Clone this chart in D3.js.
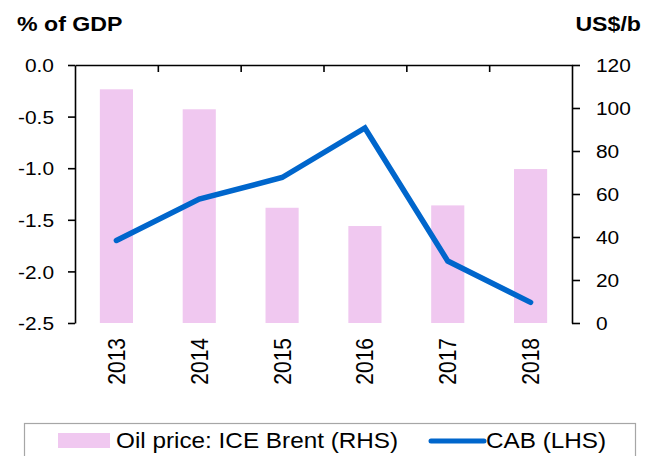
<!DOCTYPE html>
<html>
<head>
<meta charset="utf-8">
<script src="https://cdn.jsdelivr.net/npm/d3@7"></script>
<style>
  html, body { margin: 0; padding: 0; background: #fff; }
  svg { display: block; font-family: Arial, "Liberation Sans", sans-serif; }
</style>
</head>
<body>
<svg id="chart" width="646" height="456"></svg>
<script>
// Data
const years = ["2013", "2014", "2015", "2016", "2017", "2018"];
const brentPrice = [108.7, 99.4, 53.6, 45.1, 54.7, 71.6];   // US$/b, right axis
const cabShare = [-1.70, -1.30, -1.09, -0.61, -1.90, -2.30]; // % of GDP, left axis
const leftTicks = [0, -0.5, -1.0, -1.5, -2.0, -2.5];
const rightTicks = [0, 20, 40, 60, 80, 100, 120];
const legendLabels = ["Oil price: ICE Brent (RHS)", "CAB (LHS)"];
const axisTitles = ["% of GDP", "US$/b"];

const barColor = "#f0c8f0";
const lineColor = "#0066cc";
const stretch = 1.13; // horizontal stretch of the lettering

const svg = d3.select("#chart");
const plot = { left: 75, right: 572, top: 65, bottom: 323 };

const x = d3.scaleBand().domain(years).range([plot.left, plot.right])
  .paddingInner(0.6).paddingOuter(0.3);
const slots = d3.scaleLinear().domain([0, years.length]).range([plot.left, plot.right]);
const yL = d3.scaleLinear().domain([-2.5, 0]).range([plot.bottom, plot.top]);
const yR = d3.scaleLinear().domain([0, 120]).range([plot.bottom, plot.top]);

// Bars: oil price
svg.append("g").selectAll("rect").data(years).join("rect")
  .attr("x", d => x(d))
  .attr("width", x.bandwidth())
  .attr("y", (d, i) => yR(brentPrice[i]))
  .attr("height", (d, i) => yR(0) - yR(brentPrice[i]))
  .attr("fill", barColor);

// Category axis along the top (zero line of the left axis)
const topAxis = svg.append("g").attr("transform", `translate(0,${plot.top})`)
  .call(d3.axisBottom(slots).tickValues(d3.range(1, years.length)).tickSize(7)
    .tickSizeOuter(0).tickFormat(""));
topAxis.selectAll("line, path").attr("stroke", "#000").attr("stroke-width", 1.6);

// Left axis
const leftAxis = svg.append("g").attr("transform", `translate(${plot.left},0)`)
  .call(d3.axisLeft(yL).tickValues(leftTicks).tickSize(7).tickSizeOuter(0)
    .tickFormat(d => d.toFixed(1)));
leftAxis.selectAll("line, path").attr("stroke", "#000").attr("stroke-width", 1.6);
leftAxis.selectAll("text")
  .attr("x", 0).attr("dy", "0.36em")
  .attr("transform", `translate(-21,0) scale(${stretch},1)`)
  .attr("font-size", 18.5).attr("fill", "#000");

// Right axis
const rightAxis = svg.append("g").attr("transform", `translate(${plot.right},0)`)
  .call(d3.axisRight(yR).tickValues(rightTicks).tickSize(8).tickSizeOuter(0)
    .tickFormat(d3.format("d")));
rightAxis.selectAll("line, path").attr("stroke", "#000").attr("stroke-width", 1.6);
rightAxis.selectAll("text")
  .attr("x", 0).attr("dy", "0.36em")
  .attr("transform", `translate(24,0) scale(${stretch},1)`)
  .attr("font-size", 18.5).attr("fill", "#000");

// Year labels, rotated
svg.append("g").selectAll("text").data(years).join("text")
  .attr("transform", d => `translate(${x(d) + x.bandwidth() / 2},338) scale(${stretch},1) rotate(-90)`)
  .attr("text-anchor", "end")
  .attr("dy", "0.36em")
  .attr("font-size", 21)
  .text(d => d);

// Line: current account balance
const line = d3.line()
  .x((d, i) => x(years[i]) + x.bandwidth() / 2)
  .y(d => yL(d));
svg.append("path").datum(cabShare)
  .attr("d", line)
  .attr("fill", "none")
  .attr("stroke", lineColor)
  .attr("stroke-width", 5.5)
  .attr("stroke-linecap", "round")
  .attr("stroke-linejoin", "miter");

// Axis titles
svg.append("text").attr("transform", `translate(17,31) scale(${stretch},1)`)
  .attr("font-size", 20.5).attr("font-weight", "bold").text(axisTitles[0]);
svg.append("text").attr("transform", `translate(641,31) scale(${stretch},1)`)
  .attr("text-anchor", "end")
  .attr("font-size", 20.5).attr("font-weight", "bold").text(axisTitles[1]);

// Legend
const legend = svg.append("g");
legend.append("rect").attr("x", 24.5).attr("y", 423.5).attr("width", 611).attr("height", 50)
  .attr("fill", "#fff").attr("stroke", "#a6a6a6").attr("stroke-width", 1.2);
legend.append("rect").attr("x", 58).attr("y", 433).attr("width", 52).attr("height", 15)
  .attr("fill", barColor);
legend.append("text").attr("transform", `translate(116,448) scale(${stretch},1)`)
  .attr("font-size", 21.5).text(legendLabels[0]);
legend.append("line").attr("x1", 431).attr("x2", 484).attr("y1", 441).attr("y2", 441)
  .attr("stroke", lineColor).attr("stroke-width", 5).attr("stroke-linecap", "round");
legend.append("text").attr("transform", `translate(486,448) scale(${stretch},1)`)
  .attr("font-size", 21.5).text(legendLabels[1]);
</script>
</body>
</html>
